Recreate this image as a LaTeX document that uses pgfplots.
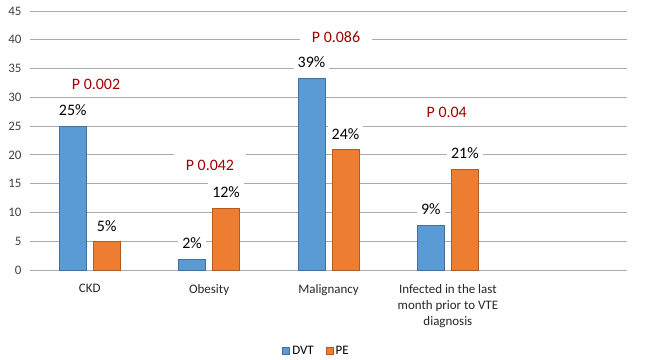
\documentclass[border=0pt]{standalone}
\usepackage{pgfplots}
\pgfplotsset{compat=1.18}
\usepackage{fontspec}
\setmainfont{Carlito}
\definecolor{dvt}{HTML}{5B9BD5}
\definecolor{dvtedge}{HTML}{41719C}
\definecolor{pe}{HTML}{ED7D31}
\definecolor{peedge}{HTML}{AE5A21}
\definecolor{pred}{HTML}{A00000}
\definecolor{gridc}{HTML}{ABABAB}
\definecolor{tickc}{HTML}{404040}
\begin{document}
\begin{tikzpicture}
\path[use as bounding box] (-30bp,-90bp) rectangle (630bp,270bp);
\begin{axis}[
  at={(0,0)}, anchor=south west,
  scale only axis, width=597bp, height=259bp,
  xmin=-0.5, xmax=4.5, ymin=0, ymax=45,
  ytick={0,5,...,45},
  xtick={0,1,2,3},
  xticklabels={CKD,Obesity,Malignancy,{Infected in the last\\month prior to VTE\\diagnosis}},
  /pgf/number format/assume math mode=true,
  ymajorgrids, grid style={gridc, line width=0.9bp},
  axis x line*=bottom, axis y line*=left,
  x axis line style={gridc, line width=0.9bp, -},
  y axis line style={draw=none},
  major tick length=0pt,
  tick style={draw=none},
  yticklabel style={font=\fontsize{13}{15}\selectfont, text=tickc, anchor=east, xshift=-5bp},
  xticklabel style={font=\fontsize{13}{16}\selectfont, text=black!85, align=center, anchor=north, yshift=-11bp},
  ybar, bar width=27bp,
  point meta=explicit symbolic,
  nodes near coords,
  every node near coord/.append style={font=\fontsize{16}{19}\selectfont, text=black, fill=white, inner xsep=4bp, inner ysep=4bp, anchor=center, yshift=16bp},
  legend style={draw=none, font=\fontsize{13}{15}\selectfont, legend columns=2, at={(0.48,-0.313)}, anchor=center,
    /tikz/every even column/.append style={column sep=10bp}},
  legend image code/.code={\draw[#1] (0bp,-3.5bp) rectangle (7bp,3.5bp);},
]
\addplot[fill=dvt, draw=dvtedge, line width=0.9bp, bar shift=-17bp] coordinates {
  (0,25) [25\%]
  (1,1.9) [2\%]
  (2,33.3) [39\%]
  (3,7.8) [9\%]
};
\addplot[fill=pe, draw=peedge, line width=0.9bp, bar shift=17bp] coordinates {
  (0,4.9) [5\%]
  (1,10.7) [12\%]
  (2,20.9) [24\%]
  (3,17.5) [21\%]
};
\legend{DVT,PE}
\tikzset{pl/.style={font=\fontsize{16}{19}\selectfont, text=pred, fill=white, inner xsep=12bp, inner ysep=6bp}}
\node[pl] at (axis cs:0.053,32.3) {P 0.002};
\node[pl] at (axis cs:1.007,18.2) {P 0.042};
\node[pl] at (axis cs:2.063,40.5) {P 0.086};
\node[pl] at (axis cs:2.99,27.3) {P 0.04};
\end{axis}
\end{tikzpicture}
\end{document}
